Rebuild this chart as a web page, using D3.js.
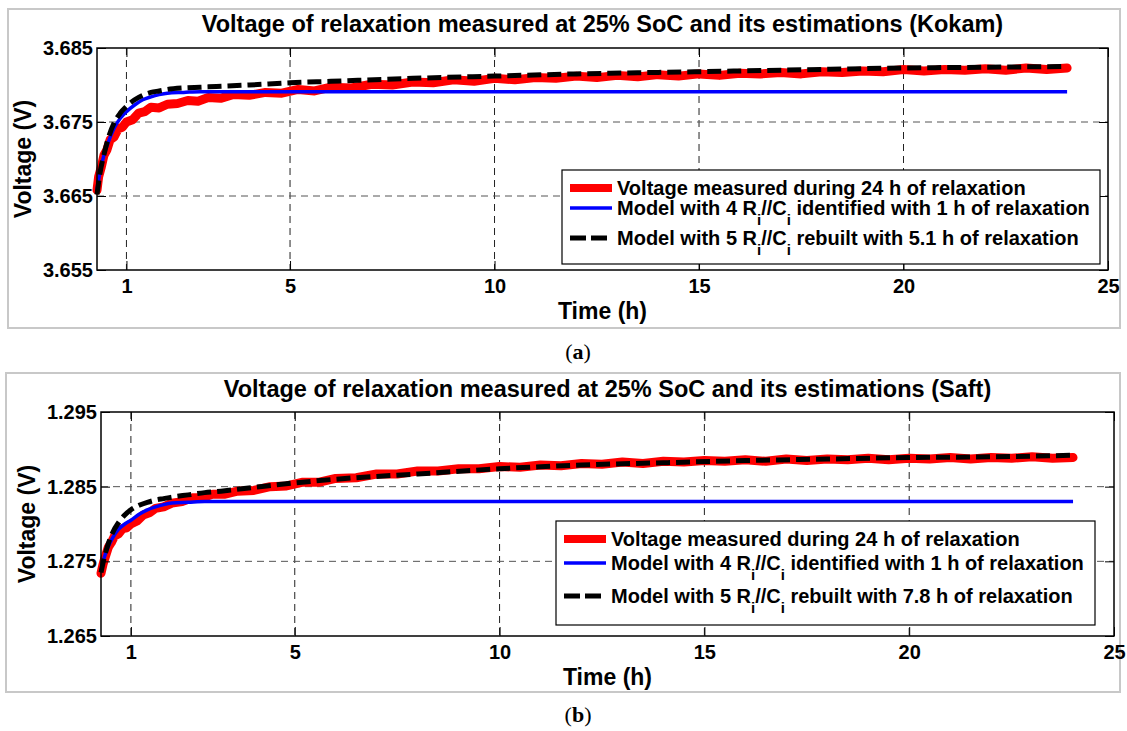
<!DOCTYPE html>
<html><head><meta charset="utf-8">
<script src="https://cdn.jsdelivr.net/npm/d3@7"></script>
<style>body{margin:0;background:#fff}svg{display:block}</style>
</head><body><svg id="c" width="1127" height="731"></svg>
<script>
// ---------- data ----------
const xTickValues = [1, 5, 10, 15, 20, 25];
const yTicksA = [3.655, 3.665, 3.675, 3.685];
const yTicksB = [1.265, 1.275, 1.285, 1.295];

const titleA = "Voltage of relaxation measured at 25% SoC and its estimations (Kokam)";
const titleB = "Voltage of relaxation measured at 25% SoC and its estimations (Saft)";
const legendA = ["Voltage measured during 24 h of relaxation",
  "Model with 4 R_i//C_i identified with 1 h of relaxation",
  "Model with 5 R_i//C_i rebuilt with 5.1 h of relaxation"];
const legendB = ["Voltage measured during 24 h of relaxation",
  "Model with 4 R_i//C_i identified with 1 h of relaxation",
  "Model with 5 R_i//C_i rebuilt with 7.8 h of relaxation"];

const timeMeasA = [0.28,0.32,0.38,0.45,0.52,0.6,0.7,0.8,0.9,1.0,1.15,1.3,1.45,1.6,1.8,2.0,2.25,2.5,2.75,3.0,3.3,3.6,4.0,4.4,4.8,5.2,5.6,6.0,6.5,7.0,7.5,8.0,8.5,9.0,9.5,10,10.5,11,11.5,12,12.5,13,13.5,14,14.5,15,15.5,16,16.5,17,17.5,18,18.5,19,19.5,20,20.5,21,21.5,22,22.5,23,23.5,24];
const measuredA = [3.6658,3.6676,3.6688,3.6705,3.6712,3.6726,3.6730,3.6741,3.6743,3.6750,3.6753,3.6762,3.6764,3.6770,3.6769,3.6774,3.6775,3.6779,3.6778,3.6783,3.6782,3.6787,3.6786,3.6790,3.6789,3.6794,3.6792,3.6797,3.6796,3.6801,3.6800,3.6804,3.6803,3.6807,3.6805,3.6809,3.6807,3.6810,3.6809,3.6812,3.6810,3.6813,3.6811,3.6814,3.6812,3.6815,3.6813,3.6816,3.6815,3.6817,3.6815,3.6818,3.6817,3.6819,3.6818,3.6821,3.6819,3.6821,3.6820,3.6822,3.6820,3.6823,3.6821,3.6823];
const timeModelA = [0.28,0.35,0.45,0.55,0.7,0.85,1.0,1.2,1.4,1.6,1.8,2.0,2.4,2.8,3.2,4,5,6,8,10,12,14,16,18,20,22,24];
const model4A = [3.6658,3.6682,3.6705,3.6722,3.6742,3.6755,3.6764,3.6773,3.6780,3.6784,3.6787,3.6789,3.6790,3.6791,3.6791,3.6791,3.6791,3.6791,3.6791,3.6791,3.6791,3.6791,3.6791,3.6791,3.6791,3.6791,3.6791];
const model5A = [3.6652,3.6680,3.6706,3.6727,3.6749,3.6762,3.6771,3.6780,3.6786,3.6790,3.6792,3.6794,3.6796,3.6797,3.6798,3.6800,3.6803,3.6805,3.6809,3.6812,3.6815,3.6817,3.6819,3.6821,3.6823,3.6824,3.6825];

const timeMeasB = [0.27,0.32,0.38,0.45,0.52,0.6,0.7,0.8,0.9,1.0,1.15,1.3,1.45,1.6,1.8,2.0,2.25,2.5,2.75,3.0,3.3,3.6,4.0,4.4,4.8,5.2,5.6,6.0,6.5,7.0,7.5,8.0,8.5,9.0,9.5,10,10.5,11,11.5,12,12.5,13,13.5,14,14.5,15,15.5,16,16.5,17,17.5,18,18.5,19,19.5,20,20.5,21,21.5,22,22.5,23,23.5,24];
const measuredB = [1.2734,1.2746,1.2757,1.2769,1.2775,1.2784,1.2787,1.2794,1.2795,1.2800,1.2804,1.2812,1.2815,1.2821,1.2823,1.2828,1.2830,1.2835,1.2835,1.2840,1.2840,1.2844,1.2845,1.2850,1.2851,1.2856,1.2856,1.2861,1.2862,1.2867,1.2867,1.2871,1.2871,1.2874,1.2874,1.2877,1.2876,1.2879,1.2878,1.2881,1.2880,1.2883,1.2881,1.2884,1.2883,1.2885,1.2884,1.2886,1.2884,1.2887,1.2885,1.2887,1.2886,1.2888,1.2886,1.2888,1.2887,1.2889,1.2887,1.2889,1.2888,1.2890,1.2888,1.2889];
const timeModelB = [0.27,0.35,0.45,0.55,0.7,0.85,1.0,1.2,1.4,1.6,1.8,2.0,2.4,2.8,3.2,4,5,6,8,10,12,14,16,18,20,22,24];
const model4B = [1.2738,1.2755,1.2770,1.2781,1.2793,1.2800,1.2805,1.2813,1.2819,1.2823,1.2826,1.2828,1.2829,1.2830,1.2830,1.2830,1.2830,1.2830,1.2830,1.2830,1.2830,1.2830,1.2830,1.2830,1.2830,1.2830,1.2830];
const model5B = [1.2735,1.2755,1.2774,1.2788,1.2802,1.2812,1.2819,1.2825,1.2829,1.2832,1.2834,1.2836,1.2839,1.2842,1.2844,1.2849,1.2855,1.2860,1.2867,1.2874,1.2879,1.2882,1.2885,1.2887,1.2889,1.2890,1.2892];

// ---------- drawing ----------
const svg = d3.select("#c");
const FONT = "'Liberation Sans', Arial, sans-serif";

function drawPanel(p) {
  const g = svg.append("g");
  g.append("rect").attr("x", p.frame[0]).attr("y", p.frame[1])
    .attr("width", p.frame[2] - p.frame[0]).attr("height", p.frame[3] - p.frame[1])
    .attr("fill", "none").attr("stroke", "#c8c8c8").attr("stroke-width", 2);

  const x = d3.scaleLinear().domain(p.xDomain).range([p.l, p.r]);
  const y = d3.scaleLinear().domain(p.yDomain).range([p.b, p.t]);

  g.append("g").selectAll("line").data(xTickValues.filter(v => v > p.xDomain[0] && v < p.xDomain[1]))
    .join("line").attr("x1", d => x(d)).attr("x2", d => x(d)).attr("y1", p.t).attr("y2", p.b)
    .attr("stroke", "#222").attr("stroke-width", 1).attr("stroke-dasharray", "7,5");
  g.append("g").selectAll("line").data(p.yTicks.filter(v => v > p.yDomain[0] && v < p.yDomain[1]))
    .join("line").attr("y1", d => y(d)).attr("y2", d => y(d)).attr("x1", p.l).attr("x2", p.r)
    .attr("stroke", "#555").attr("stroke-width", 1).attr("stroke-dasharray", "7,5");

  const line = d3.line().x(d => x(d[0])).y(d => y(d[1]));
  const smooth = d3.line().x(d => x(d[0])).y(d => y(d[1])).curve(d3.curveMonotoneX);
  g.append("path").datum(d3.zip(p.tMeas, p.meas)).attr("d", line)
    .attr("fill", "none").attr("stroke", "#ff0000").attr("stroke-width", 9)
    .attr("stroke-linejoin", "round").attr("stroke-linecap", "round");
  g.append("path").datum(d3.zip(p.tModel, p.m4)).attr("d", smooth)
    .attr("fill", "none").attr("stroke", "#0000ff").attr("stroke-width", 3.5);
  g.append("path").datum(d3.zip(p.tModel, p.m5)).attr("d", smooth)
    .attr("fill", "none").attr("stroke", "#000").attr("stroke-width", 5)
    .attr("stroke-dasharray", "14,6");

  const fmtX = d3.format("d"), fmtY = d3.format(".3f");
  const ax = g.append("g").attr("transform", `translate(0,${p.b})`)
    .call(d3.axisBottom(x).tickValues(xTickValues).tickSizeInner(-9).tickSizeOuter(0).tickPadding(9).tickFormat(fmtX));
  const at = g.append("g").attr("transform", `translate(0,${p.t})`)
    .call(d3.axisTop(x).tickValues(xTickValues).tickSizeInner(-9).tickSizeOuter(0).tickFormat(""));
  const ay = g.append("g").attr("transform", `translate(${p.l},0)`)
    .call(d3.axisLeft(y).tickValues(p.yTicks).tickSizeInner(-9).tickSizeOuter(0).tickPadding(4).tickFormat(fmtY));
  const ar = g.append("g").attr("transform", `translate(${p.r},0)`)
    .call(d3.axisRight(y).tickValues(p.yTicks).tickSizeInner(-9).tickSizeOuter(0).tickFormat(""));
  [ax, at, ay, ar].forEach(a => {
    a.select(".domain").remove();
    a.selectAll(".tick line").attr("stroke", "#000").attr("stroke-width", 1);
    a.selectAll("text").attr("font-family", FONT).attr("font-size", 20)
      .attr("font-weight", "bold").attr("fill", "#000");
  });

  const lg = g.append("g");
  lg.append("rect").attr("x", p.leg[0]).attr("y", p.leg[1])
    .attr("width", p.leg[2] - p.leg[0]).attr("height", p.leg[3] - p.leg[1])
    .attr("fill", "#fff").attr("stroke", "#000").attr("stroke-width", 1.2);
  const styles = [
    {c: "#ff0000", w: 8, dash: null},
    {c: "#0000ff", w: 3.5, dash: null},
    {c: "#000", w: 5, dash: "16,5"}];
  p.legend.forEach((txt, i) => {
    const by = p.legRows[i];
    const s = styles[i];
    lg.append("line").attr("x1", p.leg[0] + 8).attr("x2", p.leg[0] + 50)
      .attr("y1", by - 7).attr("y2", by - 7)
      .attr("stroke", s.c).attr("stroke-width", s.w).attr("stroke-dasharray", s.dash);
    const t = lg.append("text").attr("x", p.leg[0] + 55).attr("y", by)
      .attr("font-family", FONT).attr("font-size", 20).attr("font-weight", "bold");
    const parts = txt.split("_i");
    parts.forEach((part, k) => {
      t.append("tspan").attr("dy", k === 0 ? 0 : -10).text(part);
      if (k < parts.length - 1) {
        t.append("tspan").attr("dy", 10).attr("font-size", 15).text("i");
      }
    });
  });

  g.append("rect").attr("x", p.l).attr("y", p.t).attr("width", p.r - p.l).attr("height", p.b - p.t)
    .attr("fill", "none").attr("stroke", "#000").attr("stroke-width", 1.5);

  g.append("text").attr("x", (p.l + p.r) / 2).attr("y", p.titleY).attr("text-anchor", "middle")
    .attr("font-family", FONT).attr("font-size", 23.5).attr("font-weight", "bold").text(p.title);
  g.append("text").attr("x", (p.l + p.r) / 2).attr("y", p.b + 49).attr("text-anchor", "middle")
    .attr("font-family", FONT).attr("font-size", 23).attr("font-weight", "bold").text("Time (h)");
  g.append("text").attr("transform", `translate(${p.yLabelX},${(p.t + p.b) / 2}) rotate(-90)`)
    .attr("text-anchor", "middle")
    .attr("font-family", FONT).attr("font-size", 23).attr("font-weight", "bold").text("Voltage (V)");

  const cap = g.append("text").attr("x", 578).attr("y", p.capY).attr("text-anchor", "middle")
    .attr("font-family", "'Liberation Serif', 'DejaVu Serif', serif").attr("font-size", 22);
  cap.append("tspan").text("(");
  cap.append("tspan").attr("font-weight", "bold").text(p.capLetter);
  cap.append("tspan").text(")");
}

drawPanel({
  frame: [8, 9, 1120, 328], l: 97, r: 1108, t: 48, b: 270,
  xDomain: [0.28, 25], yDomain: [3.655, 3.685], yTicks: yTicksA,
  tMeas: timeMeasA, meas: measuredA, tModel: timeModelA, m4: model4A, m5: model5A,
  leg: [562, 170, 1100, 264], legRows: [195, 215, 245], legend: legendA,
  title: titleA, titleY: 32, yLabelX: 31, capY: 359, capLetter: "a"
});
drawPanel({
  frame: [6, 373, 1120, 692], l: 101, r: 1114, t: 412, b: 636,
  xDomain: [0.27, 25], yDomain: [1.265, 1.295], yTicks: yTicksB,
  tMeas: timeMeasB, meas: measuredB, tModel: timeModelB, m4: model4B, m5: model5B,
  leg: [556, 521, 1095, 625], legRows: [546, 570, 603], legend: legendB,
  title: titleB, titleY: 397, yLabelX: 35, capY: 722, capLetter: "b"
});
</script></body></html>
